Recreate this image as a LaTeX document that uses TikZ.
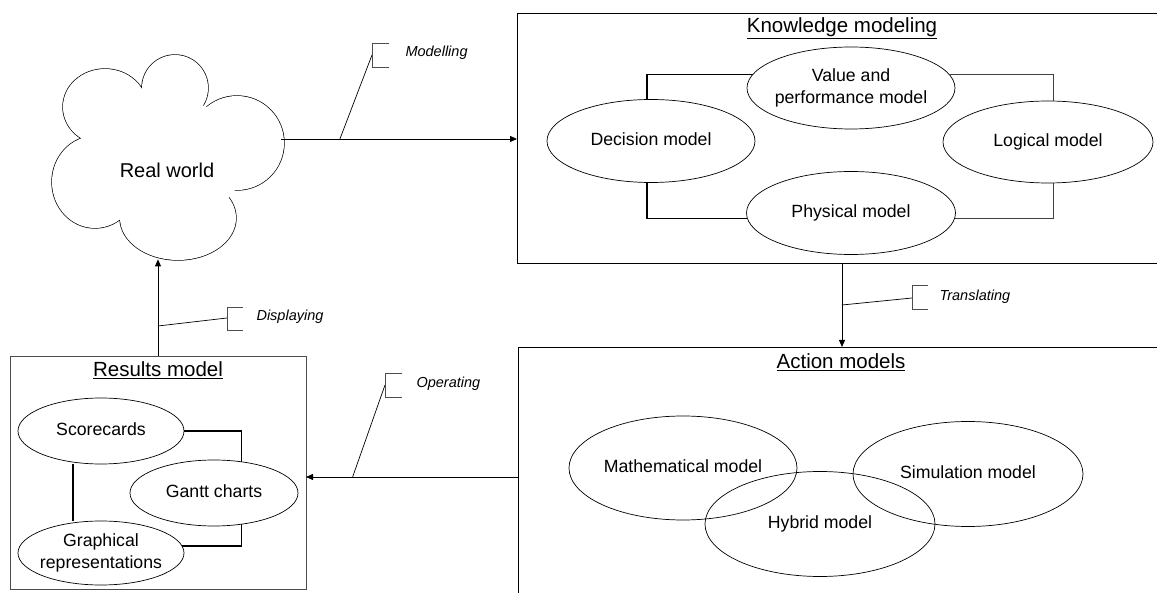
\documentclass[tikz,border=0pt]{standalone}
\usepackage{fontspec}
\setmainfont{Liberation Sans}
\usetikzlibrary{shapes.geometric,arrows.meta,calc}
\newcommand{\zb}[1]{\makebox[0pt]{\begin{tabular}{@{}c@{}}#1\end{tabular}}}
\begin{document}
\begin{tikzpicture}[x=1pt,y=-1pt,
  ell/.style={draw,ellipse,inner sep=0pt,outer sep=0pt,line width=0.7pt,font=\fontsize{17.7}{21.5}\selectfont},
  ttl/.style={font=\fontsize{20.5}{24}\selectfont},
  lbl/.style={font=\fontsize{14.5}{17}\selectfont\itshape,anchor=west},
  conn/.style={line width=1.2pt},
  conng/.style={line width=0.8pt,black!75},
  arr/.style={line width=0.8pt,-{Triangle[length=7pt,width=6pt]}},
  call/.style={line width=0.7pt},
  brk/.style={line width=0.7pt,black!70},
  boxk/.style={draw,rectangle,inner sep=0pt,outer sep=0pt,line width=0.9pt,anchor=north west},
  puffs/.style={insert path={
    (105,107) ellipse [x radius=42pt, y radius=38pt]
    (175,88) ellipse [x radius=33pt, y radius=33pt]
    (237,143) ellipse [x radius=47pt, y radius=47pt]
    (178,218) ellipse [x radius=58pt, y radius=42pt]
    (95,182) ellipse [x radius=43pt, y radius=46pt]}}
]
\useasboundingbox (0,0) rectangle (1157,593);

% cloud (outline of the union of puffs)
\node[ellipse,minimum width=231pt,minimum height=205pt,inner sep=0pt] (cloud) at (167,157) {};
\draw[line width=1.4pt,puffs];
\fill[white,puffs];
\fill[white] (165,160) ellipse [x radius=80pt, y radius=62pt];
\node[font=\fontsize{20}{24}\selectfont] (rwtext) at (167,170) {Real world};

% knowledge modeling
\node[boxk,minimum width=650pt,minimum height=250pt] (km) at (517,13) {};
\node[ttl] (kmt) at (842,28) {\underline{Knowledge modeling}};
\node[ell,minimum width=208pt,minimum height=83pt] (dec) at (651,141) {\zb{Decision model}};
\node[ell,minimum width=208pt,minimum height=82pt] (val) at (851,88) {\zb{Value and\\performance model}};
\node[ell,minimum width=210pt,minimum height=82pt] (log) at (1048,142) {\zb{Logical model}};
\node[ell,minimum width=209pt,minimum height=83pt] (phy) at (851,213) {\zb{Physical model}};
\draw[conn] ($(dec.north)+(-4,0)$) |- (val.172);
\draw[conn] ($(dec.south)+(-4,0)$) |- (phy.183);
\draw[conng] (val.8) -| ($(log.north)+(5,0)$);
\draw[conng] ($(log.south)+(5,0)$) |- (phy.357);

% action models
\node[boxk,minimum width=650pt,minimum height=260pt] (am) at (518,347) {};
\node[ttl] (amt) at (841,362) {\underline{Action models}};
\node[ell,minimum width=228pt,minimum height=104pt] (mat) at (683,468) {\zb{Mathematical model}};
\node[ell,minimum width=230pt,minimum height=105pt] (hyb) at (820,524) {\zb{Hybrid model}};
\node[ell,minimum width=230pt,minimum height=105pt] (sim) at (968,474) {\zb{Simulation model}};

% results model
\node[boxk,draw=black!70,minimum width=296pt,minimum height=233pt] (rm) at (10,356) {};
\node[ttl] (rmt) at (158,370) {\underline{Results model}};
\node[ell,minimum width=166pt,minimum height=66pt] (sc) at (101,431) {\zb{Scorecards}};
\node[ell,minimum width=168pt,minimum height=66pt] (gc) at (214,493) {\zb{Gantt charts}};
\node[ell,minimum width=166pt,minimum height=64pt] (gr) at (101,553) {\zb{Graphical\\representations}};
\draw[conn] (sc.east) -| (gc.49);
\draw[conn] (gc.311) |- (gr.5);
\draw[conn] ($(sc.south)+(-28,0)$) -- ($(gr.north)+(-28,0)$);

% main arrows
\draw[arr] (cloud.9) -- (cloud.9 -| km.west);
\draw[arr] (km.south) -- (km.south |- am.north);
\draw[arr] (am.west) -- (am.west -| rm.east);
\draw[arr] (rm.north) -- (rm.north |- cloud.265);

% callouts
\coordinate (cm) at ($(cloud.9)!0.25!(cloud.9 -| km.west)$);
\draw[call] (cm) -- (372,55);
\draw[brk] (389,43) -- (372,43) -- (372,67) -- (389,67);
\node[lbl] (lm) at (402,53) {Modelling};

\coordinate (cd) at (158,326);
\draw[call] (cd) -- (227,318);
\draw[brk] (243,307) -- (227,307) -- (227,330) -- (243,330);
\node[lbl] (ld) at (253,317) {Displaying};

\coordinate (ct) at (842,305);
\draw[call] (ct) -- (912,298);
\draw[brk] (928,285) -- (912,285) -- (912,309) -- (928,309);
\node[lbl] (lt) at (936,297) {Translating};

\coordinate (co) at ($(am.west)!0.78!(am.west -| rm.east)$);
\draw[call] (co) -- (385,385);
\draw[brk] (402,373) -- (385,373) -- (385,397) -- (402,397);
\node[lbl] (lo) at (413,384) {Operating};
\end{tikzpicture}
\end{document}
